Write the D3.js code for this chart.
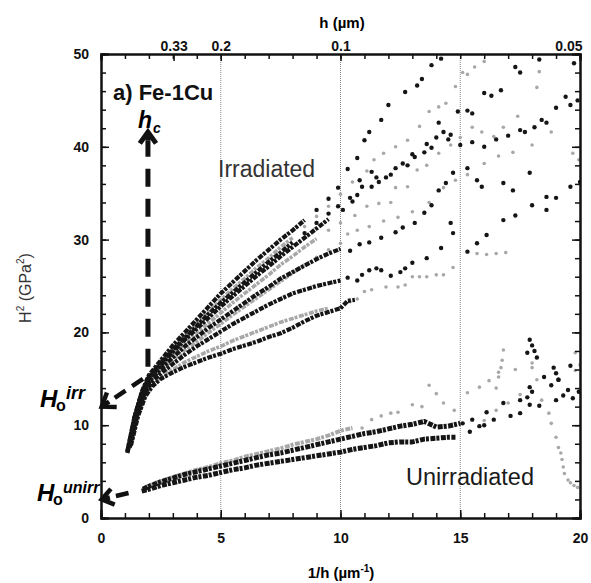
<!DOCTYPE html>
<html lang="en">
<head>
<meta charset="utf-8">
<title>Fe-1Cu: H^2 vs 1/h</title>
<script src="https://d3js.org/d3.v7.min.js"></script>
<style>
  body { margin: 0; background: #fff; }
  svg { font-family: "Liberation Sans", Arial, sans-serif; }
  .axis path, .axis line { stroke: #111; }
  .axis path { stroke-width: 2px; }
  .axis line { stroke-width: 1.5px; }
  .axis text { font-size: 14px; font-weight: bold; fill: #111; font-family: "Liberation Sans", Arial, sans-serif; }
</style>
</head>
<body>
<svg width="591" height="583"></svg>
<script>
// axis values
const yMajor = [0, 10, 20, 30, 40, 50];
const xMajor = [0, 5, 10, 15, 20];
const hTicks = [0.33, 0.2, 0.1, 0.05];
const hLabels = ["0.33", "0.2", "0.1", "0.05"];
const guideX = [5, 10, 15];

// irradiated curves, [1/h, H^2]
const irr1 = [[1.10,7.0],[1.40,10.8],[1.70,13.6],[2.00,15.4],[2.50,17.0],[3.00,18.6],[3.50,20.0],[4.00,21.4],[4.50,22.8],[5.00,24.2],[5.50,25.4],[6.00,26.6],[6.50,27.8],[7.00,28.9],[7.50,30.0],[8.00,31.0],[8.50,32.1],[9.00,33.2],[9.50,34.4],[9.9,35.6],[10.3,37.6],[10.7,38.8],[11.0,40.7],[11.2,41.6],[11.7,42.9],[12.0,44.5],[12.7,45.9],[13.2,46.6],[13.4,47.3],[13.8,48.8],[14.2,49.5]];
const irr2 = [[1.15,7.3],[1.45,11.0],[1.75,13.7],[2.05,15.3],[2.50,16.8],[3.00,18.3],[3.50,19.7],[4.00,21.0],[4.50,22.3],[5.00,23.5],[5.50,24.7],[6.00,25.8],[6.50,27.0],[7.00,28.0],[7.50,29.2],[8.00,30.2],[8.50,31.4],[9.00,32.5],[9.50,33.6],[10.0,34.9],[10.5,36.2],[11.1,37.4],[11.4,38.6],[11.8,39.3],[12.3,40.0],[12.8,40.7],[13.3,42.2],[13.7,43.8],[14.1,44.3],[14.4,44.7],[14.8,46.5],[15.1,48.0],[15.3,47.8],[15.6,48.6],[16.0,49.2]];
const irr3 = [[1.10,7.2],[1.40,10.9],[1.70,13.4],[2.00,15.0],[2.50,16.5],[3.00,17.9],[3.50,19.2],[4.00,20.4],[4.50,21.6],[5.00,22.8],[5.50,23.9],[6.00,25.0],[6.50,26.1],[7.00,27.1],[7.50,28.2],[8.00,29.2],[8.50,30.2],[9.00,31.2],[9.50,32.2],[10.1,33.2],[10.5,34.1],[10.7,34.8],[10.9,35.7],[11.3,37.3],[11.5,36.7],[11.9,36.7],[12.3,37.7],[12.8,38.0],[13.1,38.9],[13.5,39.4],[13.8,39.9],[14.1,42.6],[14.3,41.6],[14.6,41.3],[14.9,43.8],[15.3,43.9],[15.5,43.6],[16.0,45.8],[16.3,45.5],[16.7,46.1],[17.3,48.6],[17.5,48.0],[18.3,49.4],[19.75,49.0]];
const irr4 = [[1.15,7.5],[1.45,11.1],[1.75,13.5],[2.05,14.9],[2.50,16.3],[3.00,17.6],[3.50,18.8],[4.00,19.9],[4.50,21.0],[5.00,22.1],[5.50,23.2],[6.00,24.2],[6.50,25.2],[7.00,26.2],[7.50,27.3],[8.00,28.2],[8.50,29.2],[9.00,30.1],[9.50,31.0],[10.0,31.8],[10.6,32.6],[11.1,33.6],[11.6,33.9],[12.1,34.0],[12.3,35.6],[12.8,35.7],[13.2,37.5],[13.6,38.0],[14.1,39.3],[14.6,40.2],[15.0,41.0],[15.5,42.1],[15.9,41.6],[16.4,41.1],[16.8,42.1],[17.4,43.3],[18.2,46.4],[18.3,48.1]];
const irr5 = [[1.20,7.8],[1.50,11.3],[1.80,13.6],[2.10,15.0],[2.50,16.1],[3.00,17.3],[3.50,18.5],[4.00,19.5],[4.50,20.5],[5.00,21.4],[5.50,22.3],[6.00,23.2],[6.50,24.1],[7.00,24.9],[7.50,25.8],[8.00,26.5],[8.50,27.2],[9.00,27.9],[9.50,28.5],[10.0,29.0],[10.4,28.8],[10.8,29.5],[11.2,29.7],[11.7,30.2],[12.3,30.8],[12.6,31.3],[13.1,31.8],[13.5,32.9],[13.8,33.7],[14.1,35.3],[14.4,36.1],[14.7,37.2],[15.3,37.7],[15.7,36.4],[15.9,35.7],[16.8,36.1],[17.2,35.3],[17.9,37.2],[18.6,34.6],[19.6,35.7],[20.0,36.2]];
const irr6 = [[1.20,7.6],[1.50,11.0],[1.80,13.3],[2.10,14.6],[2.50,15.6],[3.00,16.6],[3.50,17.6],[4.00,18.5],[4.50,19.3],[5.00,20.1],[5.50,20.9],[6.00,21.6],[6.50,22.3],[7.00,23.0],[7.50,23.6],[8.00,24.2],[8.50,24.6],[9.00,25.0],[9.50,25.3],[10.0,25.6],[10.3,25.9],[10.7,25.6],[10.9,26.2],[11.2,26.7],[11.5,26.9],[11.7,26.7],[12.1,26.1],[12.5,26.5],[12.7,26.9],[13.0,27.5],[13.6,28.0],[14.2,29.1],[14.6,31.8],[14.7,30.7],[15.3,28.7],[15.7,29.6],[16.1,30.5],[16.8,32.1],[17.3,32.6],[18.0,33.7],[18.6,33.2],[19.0,34.5]];
const irr7 = [[1.20,7.5],[1.50,10.8],[1.80,13.0],[2.10,14.3],[2.50,15.2],[3.00,16.0],[3.50,16.8],[4.00,17.4],[4.50,18.0],[5.00,18.5],[5.50,19.1],[6.00,19.6],[6.50,20.1],[7.00,20.6],[7.50,21.1],[8.00,21.5],[8.50,21.9],[9.00,22.3],[9.50,22.6],[10.0,22.7],[10.4,23.3],[10.7,23.6],[11.0,24.4],[11.3,24.6],[11.9,24.9],[12.4,24.9],[12.7,25.1],[13.0,26.0],[13.3,26.0],[13.6,26.0],[14.0,26.2],[14.3,26.2],[14.7,27.0],[15.7,28.5],[16.1,28.4],[16.5,28.5],[16.9,28.6]];
const irr8 = [[1.25,7.8],[1.55,11.0],[1.85,13.1],[2.15,14.2],[2.50,15.0],[3.00,15.7],[3.50,16.3],[4.00,16.8],[4.50,17.3],[5.00,17.7],[5.50,18.2],[6.00,18.6],[6.50,19.0],[7.00,19.5],[7.50,19.9],[8.00,20.5],[8.50,21.2],[9.00,21.8],[9.50,22.2],[10.0,22.6],[10.3,23.4],[10.6,23.5]];
const irr9 = [[1.15,7.4],[1.45,11.0],[1.75,13.4],[2.05,14.8],[2.50,16.0],[3.00,17.0],[3.50,18.1],[4.00,19.0],[4.50,20.0],[5.00,20.9],[5.50,21.9],[6.00,22.8],[6.50,23.7],[7.00,24.6],[7.50,25.5],[8.00,26.4],[8.50,27.3],[9.00,28.1],[9.50,28.9],[10.0,29.6],[10.3,30.6],[10.7,31.0],[11.2,31.4],[11.8,32.0],[12.4,32.4],[13.0,33.0],[13.7,34.0],[14.3,35.6],[14.8,36.4],[15.3,37.0],[16.0,38.2],[16.6,39.0],[17.2,39.4],[18.0,40.2],[18.8,41.6],[19.7,39.3],[19.95,38.6]];
const irr10 = [[1.10,7.1],[1.40,10.9],[1.70,13.5],[2.00,15.2],[2.50,16.7],[3.00,18.1],[3.50,19.4],[4.00,20.7],[4.50,22.0],[5.00,23.2],[5.50,24.3],[6.00,25.4],[6.50,26.5],[7.00,27.6],[7.50,28.6],[8.00,29.7],[8.50,30.7],[9.00,31.8],[9.50,32.8],[9.9,33.6],[10.4,34.5],[10.8,36.4],[11.3,35.7],[11.6,36.2],[12.1,37.0],[12.6,38.2],[13.0,39.2],[13.6,40.3],[14.0,41.0],[14.5,40.8],[15.0,40.2],[15.5,40.5],[16.0,40.0],[16.5,40.8],[17.0,41.2],[17.5,41.8],[17.7,41.6],[18.1,42.1],[18.4,42.9],[18.6,42.6],[19.0,44.2],[19.4,45.4],[19.6,44.5],[19.9,45.0]];

// unirradiated curves
const un1 = [[1.70,2.9],[2.00,3.1],[2.50,3.5],[3.00,3.8],[3.50,4.1],[4.00,4.4],[4.50,4.6],[5.00,4.9],[5.50,5.2],[6.00,5.4],[6.50,5.7],[7.00,5.9],[7.50,6.1],[8.00,6.3],[8.50,6.5],[9.00,6.7],[9.50,6.9],[10.0,7.1],[10.5,7.4],[11.0,7.6],[11.5,7.8],[12.0,8.1],[12.5,8.2],[13.0,8.2],[13.5,8.5],[14.0,8.6],[14.5,8.7],[14.8,8.7]];
const un2 = [[1.75,3.1],[2.00,3.4],[2.50,3.9],[3.00,4.3],[3.50,4.7],[4.00,5.0],[4.50,5.3],[5.00,5.6],[5.50,5.9],[6.00,6.2],[6.50,6.5],[7.00,6.8],[7.50,7.0],[8.00,7.3],[8.50,7.6],[9.00,7.9],[9.50,8.2],[10.0,8.5],[10.5,8.8],[11.0,9.1],[11.5,9.3],[12.0,9.6],[12.5,9.9],[13.0,10.1],[13.5,10.4],[14.0,9.8],[14.5,9.9],[15.0,10.2],[15.4,9.3],[15.8,9.9],[16.0,10.0],[16.4,10.6],[17.1,11.0],[17.5,11.3],[17.9,12.2],[18.3,12.1]];
const un3 = [[1.80,3.2],[2.00,3.5],[2.50,4.0],[3.00,4.4],[3.50,4.8],[4.00,5.2],[4.50,5.5],[5.00,5.9],[5.50,6.2],[6.00,6.6],[6.50,6.9],[7.00,7.2],[7.50,7.5],[8.00,7.9],[8.50,8.2],[9.00,8.5],[9.50,8.9],[10.0,9.4],[10.5,9.7],[10.9,9.7],[11.3,10.6],[11.7,11.0],[12.1,11.3],[12.4,11.4],[13.0,12.2],[13.4,12.0],[13.7,14.3],[14.0,13.4],[14.3,12.4],[14.75,11.6],[15.3,13.5],[15.8,14.1],[16.2,14.8],[16.6,15.7],[17.3,16.0],[18.0,16.7]];
const un4 = [[15.1,10.2],[15.5,10.6],[16.1,11.4],[16.8,12.4],[17.5,12.7],[17.8,13.0],[17.9,14.1],[18.0,13.6],[18.5,15.2],[18.8,14.3],[19.0,12.7],[19.1,14.9],[19.3,13.2],[19.5,13.8],[19.7,12.9],[19.95,13.6]];
const un5 = [[16.0,10.5],[16.5,11.6],[17.0,12.4],[17.5,13.3],[18.0,16.2],[18.2,14.9],[18.4,12.7],[18.7,11.3],[18.8,10.2],[19.0,8.7],[19.1,7.6],[19.2,7.0],[19.25,6.3],[19.3,5.5],[19.35,4.8],[19.5,4.1],[19.6,3.8],[19.75,3.5],[19.9,3.3]];
const un6 = [[17.8,17.8],[17.9,19.2],[18.0,18.6],[18.1,18.0],[18.2,17.3],[18.9,16.2],[19.0,15.6],[19.1,14.9],[19.6,16.4]];
const un7 = [[16.5,14.0],[16.6,15.2],[16.7,16.2],[16.75,17.0],[16.8,18.1],[19.8,15.9],[19.8,17.8],[20.0,16.5]];

const irradiated = [irr1, irr2, irr3, irr4, irr5, irr6, irr7, irr8, irr9, irr10];
const irrShade = ["k", "g", "k", "g", "k", "k", "g", "k", "g", "k"];
const unirradiated = [un1, un2, un3, un4, un5, un6, un7];
const unShade = ["k", "k", "g", "k", "g", "k", "g"];

// annotation arrows, [from, to] in data units
const hcArrow = [[1.96, 16.3], [1.96, 41.6]];
const hoIrrArrow = [[1.75, 15.0], [0.03, 12.0]];
const hoUnArrow = [[1.15, 2.7], [0.03, 2.0]];

const svg = d3.select("svg");
const margin = {left: 101, right: 580, top: 54, bottom: 518};

const x = d3.scaleLinear().domain([0, 20]).range([margin.left, margin.right]);
const y = d3.scaleLinear().domain([0, 50]).range([margin.bottom, margin.top]);

svg.append("clipPath").attr("id", "plot")
    .append("rect")
    .attr("x", margin.left).attr("y", margin.top)
    .attr("width", margin.right - margin.left)
    .attr("height", margin.bottom - margin.top);

// dotted guide lines
svg.append("g").selectAll("line")
    .data(guideX)
    .join("line")
    .attr("x1", d => x(d)).attr("x2", d => x(d))
    .attr("y1", y(50)).attr("y2", y(0))
    .attr("stroke", "#888")
    .attr("stroke-width", 1)
    .attr("stroke-dasharray", "1,1");

const line = d3.line().x(d => x(d[0])).y(d => y(d[1]));
const colour = {k: "#151515", g: "#a8a8a8"};

// denseTo: up to which 1/h the measurement points are packed into a chain
function drawGroup(series, shades, denseTo, widths) {
    const g = svg.append("g").attr("clip-path", "url(#plot)");
    // gray ones underneath
    const order = d3.range(series.length).sort((a, b) => (shades[a] === "g" ? 0 : 1) - (shades[b] === "g" ? 0 : 1));
    order.forEach(function (i) {
        const pts = series[i];
        const c = colour[shades[i]];
        const dense = pts.filter(d => d[0] <= denseTo[i]);
        if (dense.length > 1) {
            g.append("path")
                .attr("d", line(dense))
                .attr("fill", "none")
                .attr("stroke", c)
                .attr("stroke-width", widths[shades[i]])
                .attr("stroke-linejoin", "round")
                .attr("stroke-dasharray", "5,1,3,1.5");
        }
        g.selectAll(null)
            .data(pts.filter(d => d[0] > denseTo[i]))
            .join("circle")
            .attr("cx", d => x(d[0]))
            .attr("cy", d => y(d[1]))
            .attr("r", shades[i] === "k" ? 2.2 : 1.8)
            .attr("fill", c);
    });
}

drawGroup(unirradiated, unShade, [15, 15, 10.5, 0, 0, 0, 0], {k: 5, g: 4});
drawGroup(irradiated, irrShade, [8.6, 8.1, 9.6, 9.1, 10.1, 10.1, 9.6, 10.7, 8.6, 8.1], {k: 4.2, g: 3.6});

// axes: ticks point inward
function minorAxis(axis, vals, len) {
    return axis.tickValues(vals).tickSize(-len).tickFormat("");
}
svg.append("g").attr("class", "axis")
    .attr("transform", `translate(${margin.left},0)`)
    .call(minorAxis(d3.axisLeft(y), d3.range(0, 51, 2), 5));
svg.append("g").attr("class", "axis")
    .attr("transform", `translate(${margin.left},0)`)
    .call(d3.axisLeft(y).tickValues(yMajor).tickSize(-8).tickPadding(12));

svg.append("g").attr("class", "axis")
    .attr("transform", `translate(${margin.right},0)`)
    .call(minorAxis(d3.axisRight(y), d3.range(0, 51, 2), 5));
svg.append("g").attr("class", "axis")
    .attr("transform", `translate(${margin.right},0)`)
    .call(minorAxis(d3.axisRight(y), yMajor, 8));

svg.append("g").attr("class", "axis")
    .attr("transform", `translate(0,${margin.bottom})`)
    .call(minorAxis(d3.axisBottom(x), d3.range(0, 21, 1), 5));
svg.append("g").attr("class", "axis")
    .attr("transform", `translate(0,${margin.bottom})`)
    .call(d3.axisBottom(x).tickValues(xMajor).tickSize(-8).tickPadding(15));

svg.append("g").attr("class", "axis")
    .attr("transform", `translate(0,${margin.top})`)
    .call(minorAxis(d3.axisTop(x), d3.range(0, 21, 1), 5));
const topAxis = svg.append("g").attr("class", "axis")
    .attr("transform", `translate(0,${margin.top})`)
    .call(d3.axisTop(x).tickValues(hTicks.map(h => 1 / h))
        .tickFormat((d, i) => hLabels[i]).tickSize(-7).tickPadding(3));
// last label sits flush with the right frame
topAxis.selectAll(".tick text").filter((d, i) => i === hTicks.length - 1)
    .attr("text-anchor", "end").attr("x", 2);

svg.selectAll(".axis .domain").attr("stroke-width", 2);

// titles
svg.append("text").attr("x", 342).attr("y", 28)
    .attr("text-anchor", "middle").attr("font-size", 15).attr("font-weight", "bold")
    .text("h (µm)");
const xt = svg.append("text").attr("x", 341).attr("y", 578)
    .attr("text-anchor", "middle").attr("font-size", 15).attr("font-weight", "bold");
xt.append("tspan").text("1/h (µm");
xt.append("tspan").attr("font-size", 10).attr("dy", -6).text("-1");
xt.append("tspan").attr("dy", 6).text(")");

const yt = svg.append("text")
    .attr("transform", "translate(31,288) rotate(-90)")
    .attr("text-anchor", "middle").attr("font-size", 16).attr("fill", "#333");
yt.append("tspan").text("H");
yt.append("tspan").attr("font-size", 10).attr("dy", -7).text("2");
yt.append("tspan").attr("dy", 7).text(" (GPa");
yt.append("tspan").attr("font-size", 10).attr("dy", -7).text("2");
yt.append("tspan").attr("dy", 7).text(")");

// labels inside the plot
svg.append("text").attr("x", 113).attr("y", 100)
    .attr("font-size", 22).attr("font-weight", "bold").attr("fill", "#111")
    .text("a) Fe-1Cu");
svg.append("text").attr("x", 218).attr("y", 177)
    .attr("font-size", 23).attr("fill", "#333")
    .text("Irradiated");
svg.append("text").attr("x", 406).attr("y", 485)
    .attr("font-size", 23.5).attr("fill", "#1a1a1a")
    .text("Unirradiated");

// h_c label
svg.append("text").attr("x", 138).attr("y", 128)
    .attr("font-size", 23).attr("font-weight", "bold").attr("font-style", "italic")
    .text("h");
svg.append("text").attr("x", 153).attr("y", 133)
    .attr("font-size", 14).attr("font-weight", "bold").attr("font-style", "italic")
    .text("c");

// H_o labels
function hoLabel(xp, yp, sup, supSize) {
    svg.append("text").attr("x", xp).attr("y", yp)
        .attr("font-size", 24).attr("font-weight", "bold").attr("font-style", "italic")
        .text("H");
    svg.append("text").attr("x", xp + 16).attr("y", yp + 4)
        .attr("font-size", 16).attr("font-weight", "bold")
        .text("o");
    svg.append("text").attr("x", xp + 26).attr("y", yp - 8)
        .attr("font-size", supSize).attr("font-weight", "bold").attr("font-style", "italic")
        .text(sup);
}
hoLabel(40, 407, "irr", 18);
hoLabel(37, 501, "unirr", 16);

// dashed arrows
function arrow(ends, width, dash, head) {
    const p0 = [x(ends[0][0]), y(ends[0][1])];
    const p1 = [x(ends[1][0]), y(ends[1][1])];
    const ang = Math.atan2(p0[1] - p1[1], p0[0] - p1[0]);
    const back = [p1[0] + Math.cos(ang) * head * 0.6, p1[1] + Math.sin(ang) * head * 0.6];
    svg.append("path")
        .attr("d", d3.line()([p0, back]))
        .attr("fill", "none").attr("stroke", "#111")
        .attr("stroke-width", width).attr("stroke-dasharray", dash);
    const a1 = ang + 0.62, a2 = ang - 0.62;
    svg.append("path")
        .attr("d", d3.line()([
            [p1[0] + Math.cos(a1) * head, p1[1] + Math.sin(a1) * head],
            p1,
            [p1[0] + Math.cos(a2) * head, p1[1] + Math.sin(a2) * head]
        ]))
        .attr("fill", "none").attr("stroke", "#111")
        .attr("stroke-width", width).attr("stroke-linejoin", "miter");
    svg.append("path")
        .attr("d", d3.line()([p1, back]))
        .attr("stroke", "#111").attr("stroke-width", width);
}
arrow(hcArrow, 5, "18,12", 14);
arrow(hoIrrArrow, 4.5, "13,8", 15);
arrow(hoUnArrow, 4.5, "13,8", 14);
</script>
</body>
</html>
